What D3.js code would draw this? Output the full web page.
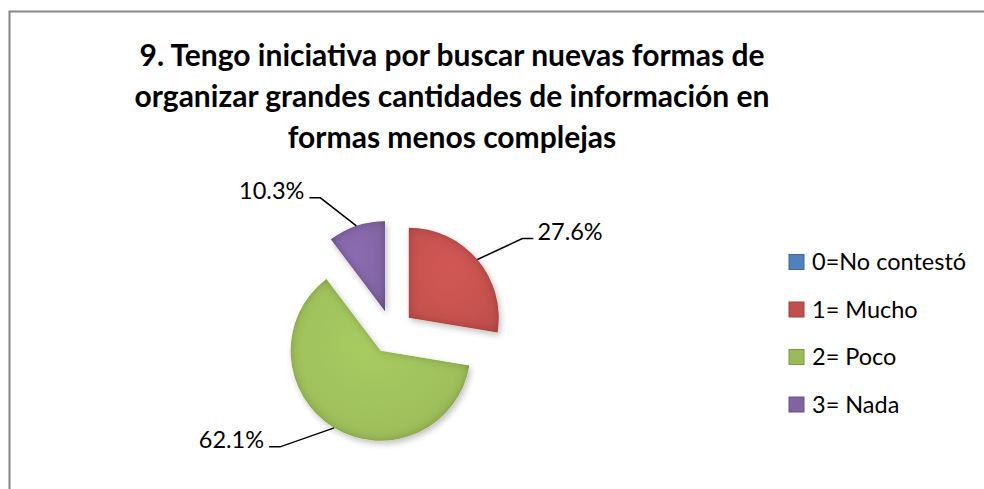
<!DOCTYPE html>
<html>
<head>
<meta charset="utf-8">
<script src="https://cdn.jsdelivr.net/npm/d3@7"></script>
<style>
  html, body { margin: 0; background: #fff; overflow: hidden; }
  svg { display: block; font-family: Lato, "Open Sans", sans-serif; }
</style>
</head>
<body>
<script>
// data
const categories = ["0=No contestó", "1= Mucho", "2= Poco", "3= Nada"];
const percents = [0, 27.6, 62.1, 10.3];
const colors = ["#4F81BD", "#C0504D", "#9BBB59", "#8064A2"];
const titleLines = [
  "9. Tengo iniciativa por buscar nuevas formas de",
  "organizar grandes cantidades de información en",
  "formas menos complejas"
];

// layout
const width = 984, height = 489;
const cx = 392, cy = 332, radius = 90, explode = 22;
// leader elbow offsets from the arc midpoint (per category)
const leaderOffsets = [[0, 0], [45, -21], [-54, 19], [-36, -28]];

const svg = d3.select("body").append("svg")
  .attr("width", width)
  .attr("height", height);

const defs = svg.append("defs");

// soft bevel: darken the inside edge of each slice, small drop shadow
const bevel = defs.append("filter").attr("id", "bevel")
  .attr("x", "-20%").attr("y", "-20%").attr("width", "140%").attr("height", "140%");
bevel.append("feGaussianBlur").attr("in", "SourceAlpha").attr("stdDeviation", 5).attr("result", "blur");
bevel.append("feComposite").attr("in", "SourceAlpha").attr("in2", "blur")
  .attr("operator", "arithmetic").attr("k2", 1).attr("k3", -1).attr("result", "edge");
bevel.append("feFlood").attr("flood-color", "#000").attr("flood-opacity", 0.45);
bevel.append("feComposite").attr("in2", "edge").attr("operator", "in").attr("result", "dark");
bevel.append("feGaussianBlur").attr("in", "SourceAlpha").attr("stdDeviation", 3).attr("result", "sb");
bevel.append("feOffset").attr("in", "sb").attr("dx", 2).attr("dy", 3).attr("result", "so");
bevel.append("feComponentTransfer").attr("in", "so").attr("result", "shadow")
  .append("feFuncA").attr("type", "linear").attr("slope", 0.25);
const merge = bevel.append("feMerge");
merge.append("feMergeNode").attr("in", "shadow");
merge.append("feMergeNode").attr("in", "SourceGraphic");
merge.append("feMergeNode").attr("in", "dark");

// light sheen gradient per colour
colors.forEach((c, i) => {
  const g = defs.append("radialGradient").attr("id", "sheen" + i)
    .attr("cx", "45%").attr("cy", "40%").attr("r", "70%");
  g.append("stop").attr("offset", "0%").attr("stop-color", d3.color(c).brighter(0.25));
  g.append("stop").attr("offset", "100%").attr("stop-color", c);
});

// chart border
svg.append("rect")
  .attr("x", 9.5).attr("y", 11.5)
  .attr("width", 1000).attr("height", 500)
  .attr("fill", "none").attr("stroke", "#868686").attr("stroke-width", 2);

// title
svg.append("text")
  .attr("x", 452).attr("y", 66)
  .attr("text-anchor", "middle")
  .attr("font-size", 30).attr("font-weight", "bold").attr("fill", "#000")
  .selectAll("tspan").data(titleLines).join("tspan")
  .attr("x", 452).attr("dy", (d, i) => i === 0 ? 0 : 41)
  .text(d => d);

// pie
const data = categories.map((c, i) => ({ cat: c, value: percents[i], i }));
const pie = d3.pie().value(d => d.value).sort(null);
const arc = d3.arc().innerRadius(0).outerRadius(radius);
const arcs = pie(data).filter(d => d.value > 0);

const mid = d => (d.startAngle + d.endAngle) / 2;
const shift = d => [Math.sin(mid(d)) * explode, -Math.cos(mid(d)) * explode];

const slices = svg.append("g").attr("transform", `translate(${cx},${cy})`);
slices.selectAll("path").data(arcs).join("path")
  .attr("transform", d => `translate(${shift(d)})`)
  .attr("d", arc)
  .attr("fill", d => `url(#sheen${d.data.i})`)
  .attr("filter", "url(#bevel)");

// leader lines and labels
const labels = slices.selectAll("g.lab").data(arcs).join("g").attr("class", "lab");
labels.each(function (d) {
  const g = d3.select(this);
  const [sx, sy] = shift(d);
  const m = mid(d);
  const p0 = [sx + Math.sin(m) * radius, sy - Math.cos(m) * radius];
  const off = leaderOffsets[d.data.i];
  const p1 = [p0[0] + off[0], p0[1] + off[1]];
  const right = off[0] > 0;
  const p2 = [p1[0] + (right ? 11 : -11), p1[1]];
  g.append("polyline")
    .attr("points", [p0, p1, p2].map(p => p.join(",")).join(" "))
    .attr("fill", "none").attr("stroke", "#000").attr("stroke-width", 1.5);
  g.append("text")
    .attr("x", p2[0] + (right ? 4 : -5))
    .attr("y", p2[1] + 1)
    .attr("text-anchor", right ? "start" : "end")
    .attr("font-size", 23.5).attr("fill", "#000")
    .text(d3.format(".1f")(d.data.value) + "%");
});

// legend
const legend = svg.append("g").attr("transform", "translate(789,0)");
const rows = legend.selectAll("g").data(categories).join("g")
  .attr("transform", (d, i) => `translate(0,${262 + i * 47.5})`);
rows.append("rect")
  .attr("x", 0).attr("y", -7.5).attr("width", 15).attr("height", 15)
  .attr("fill", (d, i) => colors[i])
  .attr("stroke", (d, i) => d3.color(colors[i]).darker(0.6)).attr("stroke-width", 1);
rows.append("text")
  .attr("x", 23).attr("y", 8)
  .attr("font-size", 23.5).attr("fill", "#000")
  .text(d => d);
</script>
</body>
</html>
